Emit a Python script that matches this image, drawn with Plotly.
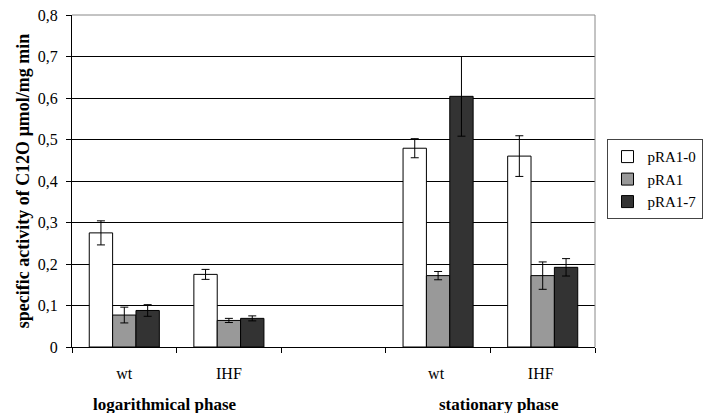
import plotly.graph_objects as go

categories = ["wt", "IHF", " ", "wt ", "IHF "]
bar_categories = ["wt", "IHF", "wt ", "IHF "]
series_names = ["pRA1-0", "pRA1", "pRA1-7"]
pRA1_0 = [0.275, 0.175, 0.479, 0.460]
pRA1_0_err = [0.029, 0.012, 0.023, 0.049]
pRA1 = [0.077, 0.064, 0.172, 0.172]
pRA1_err = [0.019, 0.005, 0.010, 0.033]
pRA1_7 = [0.088, 0.069, 0.604, 0.192]
pRA1_7_err = [0.014, 0.006, 0.096, 0.021]
y_ticks = [0, 0.1, 0.2, 0.3, 0.4, 0.5, 0.6, 0.7, 0.8]
y_ticktext = ["0", "0,1", "0,2", "0,3", "0,4", "0,5", "0,6", "0,7", "0,8"]
group_labels = ["logarithmical phase", "stationary phase"]
group_label_pos = [0.39, 3.58]

colors = ["#ffffff", "#999999", "#333333"]
values = [pRA1_0, pRA1, pRA1_7]
errors = [pRA1_0_err, pRA1_err, pRA1_7_err]

font = "Liberation Serif"

fig = go.Figure()
for name, vals, errs, col in zip(series_names, values, errors, colors):
    fig.add_trace(go.Bar(
        x=bar_categories, y=vals, name=name,
        marker=dict(color=col, line=dict(color="#000000", width=1)),
        error_y=dict(type="data", array=errs, visible=True, color="#000000",
                     thickness=1, width=4),
    ))

fig.update_layout(
    width=705, height=413,
    margin=dict(l=72, r=110, t=15, b=66, autoexpand=False),
    paper_bgcolor="white", plot_bgcolor="white",
    barmode="group", bargap=0.33, bargroupgap=0,
    font=dict(family=font, size=16, color="#000000"),
    showlegend=True,
    legend=dict(x=1.022, y=0.505, xanchor="left", yanchor="middle",
                bordercolor="#444444", borderwidth=1, bgcolor="white",
                font=dict(family=font, size=15), itemwidth=30,
                tracegroupgap=0),
    xaxis=dict(
        type="category", categoryorder="array", categoryarray=categories,
        range=[-0.5, 4.5],
        tickson="boundaries", ticks="outside", ticklen=5, tickcolor="#000000",
        showline=True, linecolor="#000000", linewidth=1,
        showgrid=False, tickfont=dict(family=font, size=16),
        ticklabelstandoff=12,
    ),
    yaxis=dict(
        range=[0, 0.8], tickvals=y_ticks, ticktext=y_ticktext,
        ticks="outside", ticklen=5, tickcolor="#000000",
        showline=True, linecolor="#000000", linewidth=1,
        showgrid=True, gridcolor="#000000", gridwidth=1,
        zeroline=False, tickfont=dict(family=font, size=16),
        ticklabelstandoff=5,
        title=dict(text="<b>specific activity of C12O μmol/mg min</b>",
                   font=dict(family=font, size=18), standoff=3),
    ),
)

# gray frame on top/right
fig.add_shape(type="line", xref="paper", yref="paper", x0=0, x1=1, y0=1, y1=1,
              line=dict(color="#888888", width=1))
fig.add_shape(type="line", xref="paper", yref="paper", x0=1, x1=1, y0=0, y1=1,
              line=dict(color="#888888", width=1))

for label, pos in zip(group_labels, group_label_pos):
    fig.add_annotation(x=pos, y=-0.172, xref="x", yref="paper", text="<b>" + label + "</b>",
                       showarrow=False, font=dict(family=font, size=17),
                       xanchor="center", yanchor="middle")

fig.write_html("out.html", config={"displayModeBar": False},
               post_script="document.body.style.margin='0px';")
